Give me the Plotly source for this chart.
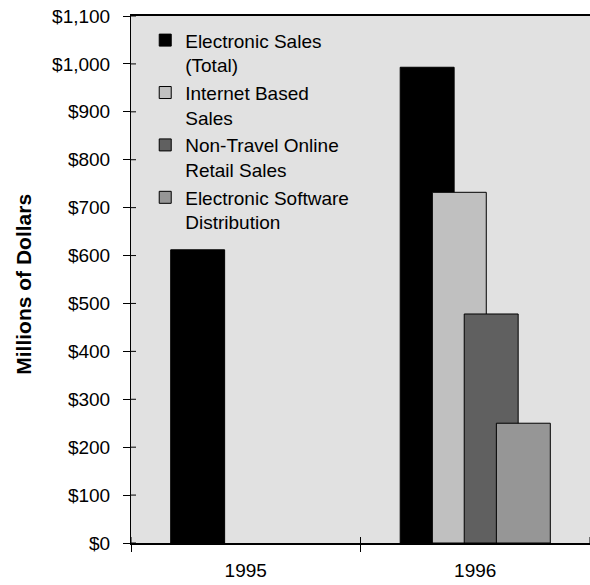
import plotly.graph_objects as go

# Sales figures, millions of US dollars
years = ["1995", "1996"]
total_sales = [612, 993]
internet_years = ["1996"]
internet_sales = [732]
retail_years = ["1996"]
retail_sales = [478]
software_years = ["1996"]
software_sales = [250]

y_ticks = list(range(0, 1101, 100))
y_tick_text = ["$" + format(v, ",") for v in y_ticks]
# category boundaries carry the x-axis tick marks
x_boundaries = [i - 0.5 for i in range(len(years) + 1)]

FONT = "Arial, Liberation Sans, sans-serif"
BAR_W = 0.235
OUTLINE = dict(color="black", width=1)

series = [
    ("Electronic Sales<br>(Total)", years, total_sales, "#000000", -0.327),
    ("Internet Based<br>Sales", internet_years, internet_sales, "#c0c0c0", -0.187),
    ("Non-Travel Online<br>Retail Sales", retail_years, retail_sales, "#606060", -0.048),
    ("Electronic Software<br>Distribution", software_years, software_sales, "#969696", 0.092),
]

fig = go.Figure()
for name, xs, ys, color, off in series:
    fig.add_trace(go.Bar(
        x=xs, y=ys, name=name,
        width=[BAR_W] * len(xs), offset=[off] * len(xs),
        marker=dict(color=color, line=OUTLINE),
    ))

# inward halves of the tick marks, so each tick crosses its axis line
tick_shapes = []
for v in y_ticks:
    tick_shapes.append(dict(
        type="line", xref="paper", yref="y", xsizemode="pixel", xanchor=0,
        x0=0, x1=5, y0=v, y1=v, line=dict(color="black", width=1), layer="above",
    ))
for b in x_boundaries:
    tick_shapes.append(dict(
        type="line", xref="x", yref="paper", ysizemode="pixel", yanchor=0,
        x0=b, x1=b, y0=0, y1=6, line=dict(color="black", width=1), layer="above",
    ))

fig.update_layout(
    width=590, height=585,
    margin=dict(l=131, r=0, t=16, b=42),
    paper_bgcolor="white",
    plot_bgcolor="#e1e1e1",
    barmode="overlay",
    font=dict(family=FONT, size=19, color="black"),
    xaxis=dict(
        type="category", categoryorder="array", categoryarray=years,
        range=[-0.5, 1.5],
        tickson="boundaries", ticks="outside", ticklen=7, tickwidth=1, tickcolor="black",
        showline=True, linecolor="black", linewidth=2, mirror=True,
        showgrid=False, zeroline=False,
        tickfont=dict(size=19), ticklabelstandoff=9,
    ),
    yaxis=dict(
        range=[0, 1100], tickvals=y_ticks, ticktext=y_tick_text,
        ticks="outside", ticklen=7, tickwidth=1, tickcolor="black",
        showline=True, linecolor="black", linewidth=1,
        showgrid=False, zeroline=False,
        tickfont=dict(size=19), ticklabelstandoff=9,
    ),
    legend=dict(
        x=0.031, y=0.99, xanchor="left", yanchor="top",
        bgcolor="rgba(0,0,0,0)", borderwidth=0,
        font=dict(size=19), valign="top", traceorder="normal",
        itemwidth=30, tracegroupgap=0,
    ),
    showlegend=True,
    shapes=tick_shapes,
    annotations=[dict(
        text="<b>Millions of Dollars</b>", textangle=-90,
        xref="paper", yref="paper", x=(24 - 131) / 459, y=0.49,
        xanchor="center", yanchor="middle", showarrow=False,
        font=dict(size=21, family=FONT, color="black"),
    )],
)

fig.write_html("out.html")
